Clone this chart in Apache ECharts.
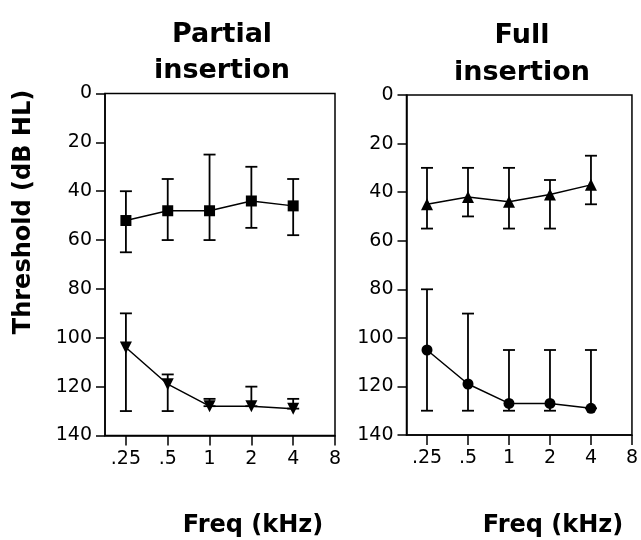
<!DOCTYPE html>
<html>
<head>
<meta charset="utf-8">
<script src="https://cdn.jsdelivr.net/npm/echarts@6/dist/echarts.min.js"></script>
<style>html,body{margin:0;padding:0;background:#fff;}#c{width:641px;height:540px;}</style>
</head>
<body>
<div id="c"></div>
<script>
// ---- data ----
var freqs = [0.25, 0.5, 1, 2, 4];
var tickFreqs = [0.25, 0.5, 1, 2, 4, 8];
var tickLabels = ['.25', '.5', '1', '2', '4', '8'];

// Partial insertion
var partialSquare = [52, 48, 48, 44, 46];
var partialSquareHi = [40, 35, 25, 30, 35];
var partialSquareLo = [65, 60, 60, 55, 58];
var partialTri = [104, 119, 128, 128, 129];
var partialTriHi = [90, 115, 125, 120, 125];
var partialTriLo = [130, 130, 128, 128, 129];

// Full insertion
var fullTri = [45, 42, 44, 41, 37];
var fullTriHi = [30, 30, 30, 35, 25];
var fullTriLo = [55, 50, 55, 55, 45];
var fullCircle = [105, 119, 127, 127, 129];
var fullCircleHi = [80, 90, 105, 105, 105];
var fullCircleLo = [130, 130, 130, 130, 129];

var titles = ['Partial\ninsertion', 'Full\ninsertion'];
var xTitle = 'Freq (kHz)';
var yTitle = 'Threshold (dB HL)';

// ---- build ----
var FONT = '"DejaVu Sans", sans-serif';
function lg(f){ return Math.log(f) / Math.LN2; }
function pts(vals){ return vals.map(function(v,i){ return [lg(freqs[i]), v]; }); }
function errData(hi, lo){ return hi.map(function(h,i){ return [lg(freqs[i]), h, lo[i]]; }); }

function errSeries(idx, hi, lo){
  return {
    type: 'custom', xAxisIndex: idx, yAxisIndex: idx, silent: true, z: 2,
    data: errData(hi, lo),
    encode: { x: 0, y: [1, 2] },
    renderItem: function(params, api){
      var a = api.coord([api.value(0), api.value(1)]);
      var b = api.coord([api.value(0), api.value(2)]);
      var w = 6;
      var st = { stroke: '#000', lineWidth: 1.8 };
      var kids = [
        { type: 'line', shape: { x1: a[0], y1: a[1], x2: b[0], y2: b[1] }, style: st },
        { type: 'line', shape: { x1: a[0]-w, y1: a[1], x2: a[0]+w, y2: a[1] }, style: st }
      ];
      if (Math.abs(b[1] - a[1]) > 0.5) {
        kids.push({ type: 'line', shape: { x1: b[0]-w, y1: b[1], x2: b[0]+w, y2: b[1] }, style: st });
      }
      return { type: 'group', children: kids };
    }
  };
}
function lineSeries(idx, vals, symbol, size, rot){
  return {
    type: 'line', xAxisIndex: idx, yAxisIndex: idx, data: pts(vals), z: 3,
    symbol: symbol, symbolSize: size, symbolRotate: rot || 0, showSymbol: true,
    lineStyle: { color: '#000', width: 1.5 }, itemStyle: { color: '#000' },
    animation: false
  };
}

var grids = [
  { left: 105, top: 93.5, width: 230, height: 342 },
  { left: 406.5, top: 95, width: 227.5, height: 340 }
];
var xTickVals = tickFreqs.map(lg);

function xAxis(idx){
  return {
    type: 'value', gridIndex: idx, min: -2.5, max: 3, position: 'bottom',
    splitLine: { show: false },
    axisLine: { onZero: false, lineStyle: { color: '#000', width: 1.5 } },
    axisTick: { show: true, length: 10, customValues: xTickVals, lineStyle: { color: '#000', width: 1.5 } },
    axisLabel: { customValues: xTickVals, margin: 14, color: '#000', fontSize: 19, fontFamily: FONT,
      formatter: function(v){ var i = xTickVals.indexOf(v); return i >= 0 ? tickLabels[i] : ''; } }
  };
}
function yAxis(idx){
  return {
    type: 'value', gridIndex: idx, min: 0, max: 140, interval: 20, inverse: true,
    splitLine: { show: false },
    axisLine: { onZero: false, lineStyle: { color: '#000', width: 1.5 } },
    axisTick: { show: true, length: 9, lineStyle: { color: '#000', width: 1.5 } },
    axisLabel: { margin: 13, color: '#000', fontSize: 19, fontFamily: FONT }
  };
}

var chart = echarts.init(document.getElementById('c'), null, { renderer: 'canvas' });
chart.setOption({
  backgroundColor: '#fff',
  animation: false,
  grid: grids.map(function(g){ return Object.assign({ show: true, borderColor: '#000', borderWidth: 1.5, backgroundColor: 'transparent' }, g); }),
  xAxis: [xAxis(0), xAxis(1)],
  yAxis: [yAxis(0), yAxis(1)],
  title: [
    { text: titles[0], left: 217, top: 12, textAlign: 'center',
      textStyle: { fontSize: 27, fontWeight: 'bold', fontFamily: FONT, color: '#000', lineHeight: 36 } },
    { text: titles[1], left: 517, top: 12, textAlign: 'center',
      textStyle: { fontSize: 27, fontWeight: 'bold', fontFamily: FONT, color: '#000', lineHeight: 37 } }
  ],
  graphic: [
    { type: 'text', x: 253, y: 526, style: { text: xTitle, align: 'center', verticalAlign: 'middle', font: 'bold 24px ' + FONT, fill: '#000' } },
    { type: 'text', x: 553, y: 526, style: { text: xTitle, align: 'center', verticalAlign: 'middle', font: 'bold 24px ' + FONT, fill: '#000' } },
    { type: 'text', x: 24, y: 212, rotation: Math.PI / 2, style: { text: yTitle, align: 'center', verticalAlign: 'middle', font: 'bold 24px ' + FONT, fill: '#000' } }
  ],
  series: [
    errSeries(0, partialSquareHi, partialSquareLo),
    lineSeries(0, partialSquare, 'rect', 11),
    errSeries(0, partialTriHi, partialTriLo),
    lineSeries(0, partialTri, 'triangle', 12, 180),
    errSeries(1, fullTriHi, fullTriLo),
    lineSeries(1, fullTri, 'triangle', 12),
    errSeries(1, fullCircleHi, fullCircleLo),
    lineSeries(1, fullCircle, 'circle', 11)
  ]
});
</script>
</body>
</html>
